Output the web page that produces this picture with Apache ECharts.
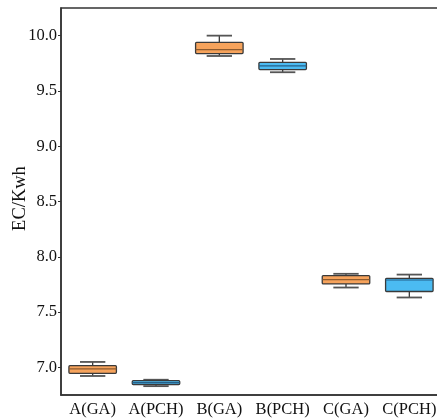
<!DOCTYPE html>
<html>
<head>
<meta charset="utf-8">
<script src="https://cdn.jsdelivr.net/npm/echarts@6/dist/echarts.min.js"></script>
<style>html,body{margin:0;padding:0;background:#fff;}#c{width:437px;height:419px;}</style>
</head>
<body>
<div id="c"></div>
<script>
const categories = ['A(GA)', 'A(PCH)', 'B(GA)', 'B(PCH)', 'C(GA)', 'C(PCH)'];
const mins    = [6.922, 6.830, 9.816, 9.669, 7.722, 7.632];
const q1s     = [6.946, 6.845, 9.838, 9.693, 7.755, 7.686];
const medians = [6.986, 6.862, 9.874, 9.726, 7.794, 7.790];
const q3s     = [7.015, 6.880, 9.940, 9.759, 7.830, 7.805];
const maxs    = [7.049, 6.888, 10.000, 9.789, 7.846, 7.839];

const data = categories.map((c, i) => [i, mins[i], q1s[i], medians[i], q3s[i], maxs[i]]);
const FONT = '"Liberation Serif", "Times New Roman", serif';

const chart = echarts.init(document.getElementById('c'));
chart.setOption({
  animation: false,
  backgroundColor: '#fff',
  grid: { left: 61, top: 8, width: 380, height: 387, containLabel: false, outerBoundsMode: 'none',
          show: true, borderColor: '#333', borderWidth: 1.5, backgroundColor: 'transparent' },
  xAxis: {
    type: 'category',
    data: categories,
    boundaryGap: true,
    axisLine: { lineStyle: { color: '#333', width: 1.5 } },
    axisTick: { inside: true, length: 3, alignWithLabel: true, interval: 0, lineStyle: { color: '#333' } },
    axisLabel: { color: '#111', fontFamily: FONT, fontSize: 16.5, margin: 6, interval: 0, hideOverlap: false },
    splitLine: { show: false }
  },
  yAxis: {
    type: 'value',
    min: 6.75,
    max: 10.25,
    splitNumber: 7,
    name: 'EC/Kwh',
    nameLocation: 'middle',
    nameGap: 31,
    nameRotate: 90,
    nameMoveOverlap: false,
    nameTextStyle: { color: '#111', fontFamily: FONT, fontSize: 18.5, padding: [0, 0, 0, 6] },
    axisLine: { show: true, lineStyle: { color: '#333', width: 1.5 } },
    axisTick: { show: true, inside: false, length: 3, lineStyle: { color: '#333' } },
    axisLabel: { color: '#111', fontFamily: FONT, fontSize: 16.5, margin: 4, showMinLabel: false, showMaxLabel: false,
      formatter: v => (Math.abs(v * 2 - Math.round(v * 2)) < 1e-6 ? v.toFixed(1) : '') },
    splitLine: { show: false }
  },
  series: [{
    type: 'custom',
    data: data,
    encode: { x: 0, y: [1, 2, 3, 4, 5] },
    renderItem: function (params, api) {
      const i = api.value(0);
      const pMin = api.coord([i, api.value(1)]);
      const pQ1 = api.coord([i, api.value(2)]);
      const pMed = api.coord([i, api.value(3)]);
      const pQ3 = api.coord([i, api.value(4)]);
      const pMax = api.coord([i, api.value(5)]);
      const band = api.size([1, 0])[0];
      const bw = band * 0.75, cw = band * 0.4;
      const x = pMed[0];
      const isGA = categories[i].indexOf('GA') >= 0;
      const fill = isGA ? '#F6A35C' : '#4BBBF2';
      const medC = isGA ? '#8C5A2E' : '#25608A';
      const line = '#3a3a3a';
      return {
        type: 'group',
        children: [
          { type: 'line', shape: { x1: x, y1: pQ3[1], x2: x, y2: pMax[1] }, style: { stroke: line, lineWidth: 1.3 } },
          { type: 'line', shape: { x1: x, y1: pQ1[1], x2: x, y2: pMin[1] }, style: { stroke: line, lineWidth: 1.3 } },
          { type: 'line', shape: { x1: x - cw / 2, y1: pMax[1], x2: x + cw / 2, y2: pMax[1] }, style: { stroke: '#555', lineWidth: 1.8 } },
          { type: 'line', shape: { x1: x - cw / 2, y1: pMin[1], x2: x + cw / 2, y2: pMin[1] }, style: { stroke: '#555', lineWidth: 1.8 } },
          { type: 'rect', shape: { x: x - bw / 2, y: pQ3[1], width: bw, height: pQ1[1] - pQ3[1], r: 1 }, style: { fill: fill, stroke: line, lineWidth: 1.3 } },
          { type: 'line', shape: { x1: x - bw / 2, y1: pMed[1], x2: x + bw / 2, y2: pMed[1] }, style: { stroke: medC, lineWidth: 1.2 } }
        ]
      };
    }
  }]
});
</script>
</body>
</html>
